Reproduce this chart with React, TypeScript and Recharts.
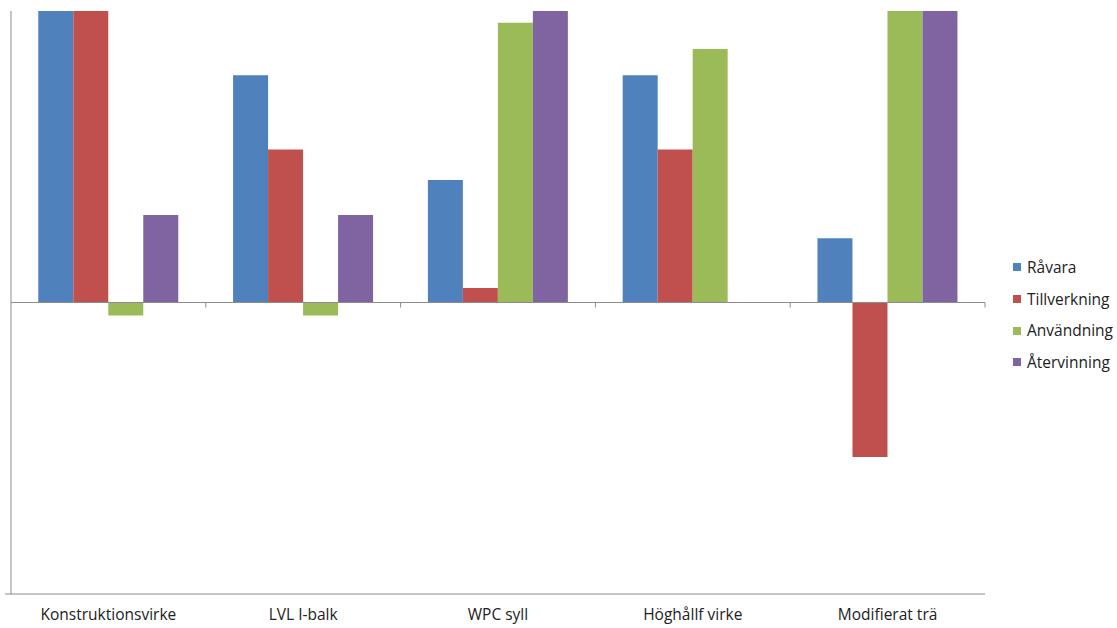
import { BarChart, Bar, XAxis, YAxis, ReferenceLine } from 'recharts'

// livscykelfaser per träprodukt
const categories = ['Konstruktionsvirke', 'LVL I-balk', 'WPC syll', 'Höghållf virke', 'Modifierat trä']
const ravara = [120, 78, 42, 78, 22]
const tillverkning = [120, 52.5, 5, 52.5, -53]
const anvandning = [-4.5, -4.5, 96, 87, 120]
const atervinning = [30, 30, 120, 0, 120]

const series = [
  { key: 'ravara', name: 'Råvara', color: '#4F81BD', values: ravara },
  { key: 'tillverkning', name: 'Tillverkning', color: '#C0504D', values: tillverkning },
  { key: 'anvandning', name: 'Användning', color: '#9BBB59', values: anvandning },
  { key: 'atervinning', name: 'Återvinning', color: '#8064A2', values: atervinning },
]

const data = categories.map((name, i) => {
  const row: Record<string, string | number> = { name }
  series.forEach((s) => (row[s.key] = s.values[i]))
  return row
})

const font = '"Open Sans", "Noto Sans", sans-serif'
const axisColor = '#8c8c8c'

// nollinje med små skiljestreck mellan kategorierna
function ZeroLine(props: any) {
  const { x1, x2, y1 } = props
  const step = (x2 - x1) / categories.length
  return (
    <g>
      <line x1={x1} x2={x2} y1={y1} y2={y1} stroke={axisColor} strokeWidth={1} />
      {categories.map((_, i) => {
        const x = x1 + step * (i + 1)
        return <line key={i} x1={x} x2={x} y1={y1} y2={y1 + 5} stroke={axisColor} strokeWidth={1} />
      })}
    </g>
  )
}

export default function App() {
  return (
    <div style={{ position: 'absolute', left: 0, top: 0, width: 1117, height: 628, background: '#fff' }}>
      <BarChart
        width={1117}
        height={628}
        data={data}
        margin={{ top: 11, right: 132, left: 10, bottom: 4 }}
        barCategoryGap="14%"
        barGap={0}
      >
        <YAxis
          width={1}
          domain={[-100, 100]}
          allowDataOverflow
          ticks={[-100]}
          tickSize={6}
          tickFormatter={() => ''}
          axisLine={{ stroke: axisColor }}
          tickLine={{ stroke: axisColor }}
        />
        <XAxis
          dataKey="name"
          height={30}
          tickLine={false}
          axisLine={{ stroke: axisColor }}
          tickMargin={9}
          tick={{ fill: '#222', fontSize: 15.5, fontFamily: font }}
          interval={0}
        />
        {series.map((s) => (
          <Bar key={s.key} dataKey={s.key} name={s.name} fill={s.color} isAnimationActive={false} />
        ))}
        <ReferenceLine y={0} shape={ZeroLine} />
      </BarChart>
      <div style={{ position: 'absolute', left: 1013, top: 251, fontFamily: font, fontSize: 15.5, color: '#222' }}>
        {series.map((s) => (
          <div key={s.key} style={{ display: 'flex', alignItems: 'center', height: 31.7 }}>
            <span style={{ width: 8, height: 8, background: s.color, marginRight: 6, marginTop: 1 }} />
            <span>{s.name}</span>
          </div>
        ))}
      </div>
    </div>
  )
}
